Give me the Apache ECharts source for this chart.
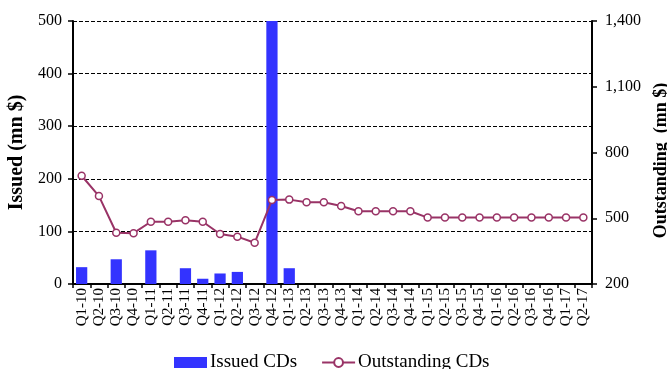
<!DOCTYPE html>
<html><head><meta charset="utf-8">
<script src="https://cdn.jsdelivr.net/npm/echarts@6/dist/echarts.min.js"></script>
<style>html,body{margin:0;padding:0;background:#fff}#c{width:667px;height:369px}</style>
</head><body><div id="c"></div>
<script>
var categories = ['Q1-10','Q2-10','Q3-10','Q4-10','Q1-11','Q2-11','Q3-11','Q4-11','Q1-12','Q2-12','Q3-12','Q4-12','Q1-13','Q2-13','Q3-13','Q4-13','Q1-14','Q2-14','Q3-14','Q4-14','Q1-15','Q2-15','Q3-15','Q4-15','Q1-16','Q2-16','Q3-16','Q4-16','Q1-17','Q2-17'];
var issued = [32,null,47,null,64,null,30,10,20,23,null,500,30,null,null,null,null,null,null,null,null,null,null,null,null,null,null,null,null,null];
var outstanding = [694,601,434,432,484,484,491,484,428,416,388,583,585,573,573,556,532,532,532,532,503,503,503,503,503,503,503,503,503,503];
var leftTicks = {min:0,max:500,interval:100};
var rightTicks = {min:200,max:1400,interval:300};

var font = 'Liberation Serif';
var chart = echarts.init(document.getElementById('c'));
chart.setOption({
  animation:false,
  textStyle:{fontFamily:font,color:'#000'},
  grid:{left:73,right:75,top:21,bottom:85,containLabel:false,outerBoundsMode:'none'},
  legend:{top:348,left:169,itemGap:24,itemWidth:33,itemHeight:11,
    textStyle:{fontFamily:font,fontSize:19,color:'#000',padding:[0,0,0,-2]},
    data:[{name:'Issued CDs',icon:'rect'},{name:'Outstanding CDs'}]},
  xAxis:{type:'category',data:categories,boundaryGap:true,
    axisLine:{lineStyle:{color:'#000',width:2}},
    axisTick:{show:true,inside:false,length:4,lineStyle:{color:'#000',width:1.5},alignWithLabel:false},
    axisLabel:{rotate:90,fontFamily:font,fontSize:15,color:'#000',margin:4,interval:0,hideOverlap:false}},
  yAxis:[{type:'value',min:leftTicks.min,max:leftTicks.max,interval:leftTicks.interval,
    name:'Issued (mn $)',nameLocation:'middle',nameGap:44,nameRotate:90,
    nameTextStyle:{fontFamily:font,fontSize:20,fontWeight:'bold',color:'#000'},
    axisLine:{show:true,lineStyle:{color:'#000',width:2}},
    axisTick:{show:true,length:5,lineStyle:{color:'#000',width:1.5}},
    axisLabel:{fontFamily:font,fontSize:16,color:'#000',margin:11},
    splitLine:{show:true,lineStyle:{color:'#000',type:[4,2],width:1}}},
   {type:'value',min:rightTicks.min,max:rightTicks.max,interval:rightTicks.interval,position:'right',
    name:'Outstanding  (mn $)',nameLocation:'middle',nameGap:58,nameRotate:90,
    nameTextStyle:{fontFamily:font,fontSize:18,fontWeight:'bold',color:'#000',padding:[0,16,0,0]},
    axisLine:{show:true,lineStyle:{color:'#000',width:2}},
    axisTick:{show:true,length:5,inside:false,lineStyle:{color:'#000',width:1.5}},
    axisLabel:{fontFamily:font,fontSize:16,color:'#000',margin:13,
      formatter:function(v){return v.toLocaleString('en-US');}},
    splitLine:{show:false}}],
  series:[
    {name:'Issued CDs',type:'bar',data:issued,yAxisIndex:0,barWidth:'65%',
     itemStyle:{color:'#3333ff'}},
    {name:'Outstanding CDs',type:'line',data:outstanding,yAxisIndex:1,
     symbol:'circle',symbolSize:7,
     lineStyle:{color:'#993366',width:2},
     itemStyle:{color:'#fff',borderColor:'#993366',borderWidth:1.5}}
  ]
});
</script></body></html>
